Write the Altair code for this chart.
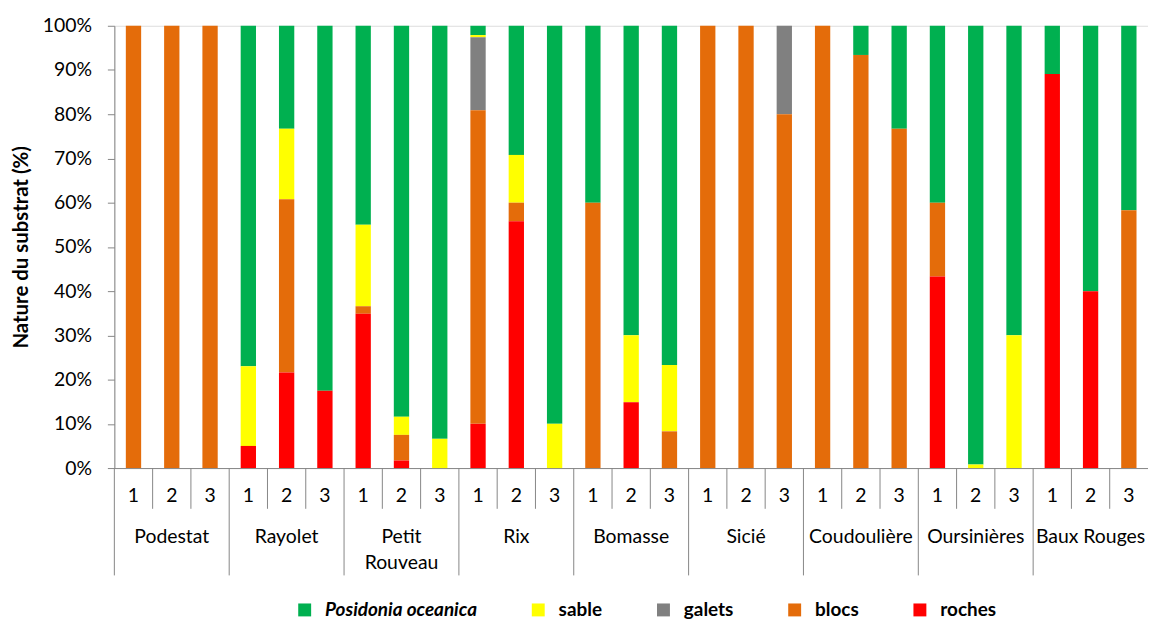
import altair as alt
import pandas as pd

sites = ["Podestat", "Rayolet", "Petit Rouveau", "Rix", "Bomasse", "Sicié",
         "Coudoulière", "Oursinières", "Baux Rouges"]
site_labels = ["Podestat", "Rayolet", "Petit\nRouveau", "Rix", "Bomasse", "Sicié",
               "Coudoulière", "Oursinières", "Baux Rouges"]
transects = ["1", "2", "3"]

substrates = ["Posidonia oceanica", "sable", "galets", "blocs", "roches"]
colors = ["#00B050", "#FFFF00", "#808080", "#E46C0A", "#FF0000"]

# values in % (per site: transect 1, 2, 3)
posidonia = [0, 0, 0, 77, 23.3, 82.5, 45, 88.4, 93.4, 2.1, 29.2, 90,
             40, 70, 76.7, 0, 0, 0, 0, 6.6, 23.3, 40, 99.2, 70, 10.9, 60, 41.7]
sable = [0, 0, 0, 18, 15.9, 0, 18.4, 4.1, 6.6, 0.5, 10.8, 10,
         0, 15.1, 15, 0, 0, 0, 0, 0, 0, 0, 0.8, 30, 0, 0, 0]
galets = [0, 0, 0, 0, 0, 0, 0, 0, 0, 16.5, 0, 0,
          0, 0, 0, 0, 0, 20, 0, 0, 0, 0, 0, 0, 0, 0, 0]
blocs = [100, 100, 100, 0, 39.2, 0, 1.7, 5.8, 0, 70.9, 4.2, 0,
         60, 0, 8.3, 100, 100, 80, 100, 93.4, 76.7, 16.7, 0, 0, 0, 0, 58.3]
roches = [0, 0, 0, 5, 21.6, 17.5, 34.9, 1.7, 0, 10, 55.8, 0,
          0, 14.9, 0, 0, 0, 0, 0, 0, 0, 43.3, 0, 0, 89.1, 40, 0]

series = {"Posidonia oceanica": posidonia, "sable": sable, "galets": galets,
          "blocs": blocs, "roches": roches}
stack_rank = {"roches": 0, "blocs": 1, "galets": 2, "sable": 3, "Posidonia oceanica": 4}

keys = [f"{s}|{t}" for s in sites for t in transects]

rows = []
for i, k in enumerate(keys):
    for sub in substrates:
        v = series[sub][i]
        if v > 0:
            rows.append({"key": k, "substrate": sub, "value": v, "rank": stack_rank[sub]})
df = pd.DataFrame(rows)

sep_rows = []
for s in sites:
    for t in transects:
        sep_rows.append({"key": f"{s}|{t}", "kind": "long" if t == "1" else "short"})
sep_df = pd.DataFrame(sep_rows)

site_df = pd.DataFrame({"key": [f"{s}|2" for s in sites], "label": site_labels})

FONT = "Lato"
GRAY = "#868686"
H = 445
W = 1040
LFS = 19.5

xscale = alt.Scale(domain=keys, paddingInner=0, paddingOuter=0)
xaxis = alt.Axis(title=None, ticks=False, tickSize=0, labelPadding=34,
                 labelBaseline="alphabetic", labelAngle=0, labelFont=FONT,
                 labelFontSize=LFS, labelColor="#000000", domainColor=GRAY,
                 grid=False, labelExpr="split(datum.value, '|')[1]")

bars = alt.Chart(df).mark_bar(width=alt.RelativeBandSize(0.4)).encode(
    x=alt.X("key:N", sort=keys, scale=xscale, axis=xaxis),
    y=alt.Y("value:Q", stack="zero",
            scale=alt.Scale(domain=[0, 100], nice=False),
            axis=alt.Axis(values=list(range(0, 101, 10)),
                          labelExpr="datum.value + '%'",
                          title="Nature du substrat (%)",
                          titleFont=FONT, titleFontSize=20.5, titleFontWeight="bold",
                          titleColor="#000000", titleAngle=270, titleAlign="center",
                          titleBaseline="alphabetic", titleX=-87, titleY=H / 2,
                          labelFont=FONT, labelFontSize=LFS, labelColor="#000000",
                          labelPadding=16, tickSize=7, tickColor=GRAY,
                          domainColor=GRAY, grid=False)),
    color=alt.Color("substrate:N",
                    scale=alt.Scale(domain=substrates, range=colors),
                    legend=alt.Legend(title=None, orient="none", direction="horizontal",
                                      legendX=182, legendY=578, padding=0,
                                      columnPadding=52, labelOffset=11,
                                      symbolType="square", symbolSize=169,
                                      symbolStrokeWidth=0,
                                      labelFont=FONT, labelFontSize=19,
                                      labelFontWeight="bold", labelColor="#000000",
                                      labelFontStyle=alt.ExprRef(
                                          expr="datum.label == 'Posidonia oceanica' ? 'italic' : 'normal'"))),
    order=alt.Order("rank:Q", sort="ascending"),
)

short_sep = alt.Chart(sep_df).transform_filter("datum.kind == 'short'").mark_rule(
    color=GRAY, strokeWidth=1).encode(
    x=alt.X("key:N", bandPosition=0, sort=keys, scale=xscale, axis=xaxis),
    y=alt.value(H), y2=alt.value(H + 41))

long_sep = alt.Chart(sep_df).transform_filter("datum.kind == 'long'").mark_rule(
    color=GRAY, strokeWidth=1).encode(
    x=alt.X("key:N", bandPosition=0, sort=keys, scale=xscale, axis=xaxis),
    y=alt.value(H), y2=alt.value(H + 108))

site_text = alt.Chart(site_df).mark_text(
    font=FONT, fontSize=LFS, color="#000000", align="center",
    baseline="alphabetic", lineBreak="\n", lineHeight=26.7).encode(
    x=alt.X("key:N", sort=keys, scale=xscale, axis=xaxis),
    y=alt.value(H + 75),
    text="label:N")

chart = alt.layer(bars, short_sep, long_sep, site_text).properties(
    width=W, height=H, autosize=alt.AutoSizeParams(type="none"),
    padding={"left": 107, "top": 16, "right": 0, "bottom": 151},
).configure_view(stroke=None).configure(background="white")

chart.save("out.html", embed_options={"renderer": "svg", "actions": False})
